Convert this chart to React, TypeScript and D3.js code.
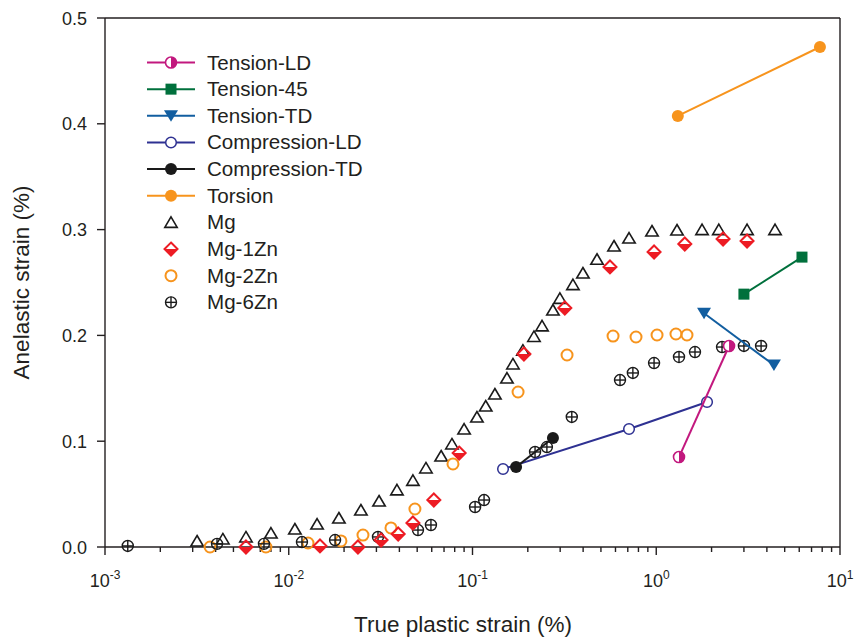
import React from "react";
import * as d3 from "d3";

// ---------- data ----------
const mgX = [0.00317, 0.00438, 0.00585, 0.008, 0.0108, 0.01426, 0.01875, 0.0247, 0.031, 0.0388, 0.0474, 0.0558, 0.0675, 0.0773, 0.09, 0.1057, 0.118, 0.1324, 0.154, 0.166, 0.188, 0.216, 0.239, 0.274, 0.299, 0.352, 0.399, 0.476, 0.589, 0.711, 0.948, 1.297, 1.775, 2.19, 3.12, 4.43];
const mgY = [0.0057, 0.0076, 0.0095, 0.0132, 0.017, 0.0217, 0.0274, 0.035, 0.0435, 0.054, 0.063, 0.0747, 0.086, 0.0974, 0.1115, 0.1229, 0.1333, 0.1446, 0.1597, 0.173, 0.186, 0.199, 0.209, 0.224, 0.235, 0.248, 0.259, 0.272, 0.2845, 0.292, 0.2987, 0.2996, 0.3, 0.3, 0.3, 0.3];

const mg1X = [0.00585, 0.01479, 0.0238, 0.0318, 0.0394, 0.0474, 0.0616, 0.0846, 0.1905, 0.318, 0.56, 0.973, 1.43, 2.31, 3.12];
const mg1Y = [0.0, 0.001, 0.0, 0.0066, 0.0123, 0.0227, 0.0444, 0.0888, 0.1824, 0.2259, 0.2647, 0.2788, 0.2864, 0.2911, 0.2892];

const mg2X = [0.00373, 0.00751, 0.01273, 0.01923, 0.02535, 0.036, 0.0486, 0.0783, 0.177, 0.327, 0.582, 0.776, 1.01, 1.28, 1.47];
const mg2Y = [0.0, 0.0, 0.0038, 0.0057, 0.0113, 0.018, 0.0359, 0.0785, 0.1465, 0.1815, 0.1994, 0.1985, 0.2004, 0.2013, 0.2004];

const mg6X = [0.00133, 0.00407, 0.00733, 0.0118, 0.01787, 0.0306, 0.0505, 0.0594, 0.1033, 0.1156, 0.219, 0.254, 0.347, 0.635, 0.746, 0.973, 1.33, 1.625, 2.28, 3.0, 3.72];
const mg6Y = [0.001, 0.003, 0.003, 0.0047, 0.0066, 0.0095, 0.016, 0.0208, 0.0378, 0.0444, 0.0898, 0.0945, 0.1229, 0.1578, 0.1645, 0.1739, 0.1796, 0.1843, 0.189, 0.19, 0.19];

const tensionLDX = [1.33, 2.49];
const tensionLDY = [0.085, 0.19];
const tension45X = [3.0, 6.21];
const tension45Y = [0.239, 0.274];
const tensionTDX = [1.82, 4.37];
const tensionTDY = [0.221, 0.172];
const compLDX = [0.1466, 0.711, 1.89];
const compLDY = [0.0737, 0.1115, 0.137];
const compTDX = [0.1726, 0.274];
const compTDY = [0.0756, 0.103];
const torsionX = [1.31, 7.78];
const torsionY = [0.4074, 0.4726];

const yTicks = [0, 0.1, 0.2, 0.3, 0.4, 0.5];
const xDecades = [1e-3, 1e-2, 1e-1, 1, 10];
const xDecadeExp = ["-3", "-2", "-1", "0", "1"];

const legendNames = ["Tension-LD", "Tension-45", "Tension-TD", "Compression-LD", "Compression-TD", "Torsion", "Mg", "Mg-1Zn", "Mg-2Zn", "Mg-6Zn"];

// ---------- styles ----------
const C = {
  tensionLD: "#c2187e",
  tension45: "#00703c",
  tensionTD: "#125ea0",
  compLD: "#2e3192",
  compTD: "#1a1a1a",
  torsion: "#f7941d",
  mg: "#1a1a1a",
  mg1: "#ed1c24",
  mg2: "#f7941d",
  mg6: "#1a1a1a",
  axis: "#231f20",
};
const FONT = "'Liberation Sans', Arial, Helvetica, sans-serif";

type MarkerKind = "halfCircle" | "square" | "downTri" | "openCircleNavy" | "filledBlack" | "filledOrange" | "tri" | "diamond" | "openCircleOrange" | "plusCircle";

function Marker({ kind, x, y }: { kind: MarkerKind; x: number; y: number }) {
  switch (kind) {
    case "halfCircle": {
      const r = 5.5;
      return (
        <g>
          <circle cx={x} cy={y} r={r} fill="#fff" stroke={C.tensionLD} strokeWidth={1.6} />
          <path d={`M${x},${y - r} A${r},${r} 0 0 1 ${x},${y + r} Z`} fill={C.tensionLD} />
        </g>
      );
    }
    case "square":
      return <rect x={x - 5.5} y={y - 5.5} width={11} height={11} fill={C.tension45} />;
    case "downTri":
      return <path d={`M${x - 7},${y - 5.5} L${x + 7},${y - 5.5} L${x},${y + 6} Z`} fill={C.tensionTD} />;
    case "openCircleNavy":
      return <circle cx={x} cy={y} r={5.3} fill="#fff" stroke={C.compLD} strokeWidth={1.5} />;
    case "filledBlack":
      return <circle cx={x} cy={y} r={6} fill={C.compTD} />;
    case "filledOrange":
      return <circle cx={x} cy={y} r={6} fill={C.torsion} />;
    case "tri":
      return <path d={`M${x},${y - 5.5} L${x + 6.2},${y + 5} L${x - 6.2},${y + 5} Z`} fill="none" stroke={C.mg} strokeWidth={1.6} strokeLinejoin="miter" />;
    case "diamond": {
      const h = 6.5;
      return (
        <g>
          <path d={`M${x - h},${y} L${x + h},${y} L${x},${y + h} Z`} fill={C.mg1} />
          <path d={`M${x},${y - h} L${x + h},${y} L${x},${y + h} L${x - h},${y} Z`} fill="none" stroke={C.mg1} strokeWidth={2} strokeLinejoin="miter" />
        </g>
      );
    }
    case "openCircleOrange":
      return <circle cx={x} cy={y} r={5.5} fill="none" stroke={C.mg2} strokeWidth={2} />;
    case "plusCircle": {
      const r = 5.5;
      return (
        <g stroke={C.mg6} strokeWidth={1.4} fill="none">
          <circle cx={x} cy={y} r={r} />
          <line x1={x - r} y1={y} x2={x + r} y2={y} />
          <line x1={x} y1={y - r} x2={x} y2={y + r} />
        </g>
      );
    }
  }
  return null;
}

export default function App() {
  const W = 856, H = 639;
  const left = 105, right = 840, top = 18, bottom = 547;
  const x = d3.scaleLog().domain([1e-3, 10]).range([left, right]);
  const y = d3.scaleLinear().domain([0, 0.5]).range([bottom, top]);
  const line = d3.line<[number, number]>().x((d) => x(d[0])).y((d) => y(d[1]));
  const pairs = (xs: number[], ys: number[]) => xs.map((v, i) => [v, ys[i]] as [number, number]);

  const scatter: { xs: number[]; ys: number[]; kind: MarkerKind }[] = [
    { xs: mgX, ys: mgY, kind: "tri" },
    { xs: mg2X, ys: mg2Y, kind: "openCircleOrange" },
    { xs: mg6X, ys: mg6Y, kind: "plusCircle" },
    { xs: mg1X, ys: mg1Y, kind: "diamond" },
  ];
  const lined: { xs: number[]; ys: number[]; kind: MarkerKind; color: string }[] = [
    { xs: compLDX, ys: compLDY, kind: "openCircleNavy", color: C.compLD },
    { xs: compTDX, ys: compTDY, kind: "filledBlack", color: C.compTD },
    { xs: tensionLDX, ys: tensionLDY, kind: "halfCircle", color: C.tensionLD },
    { xs: tension45X, ys: tension45Y, kind: "square", color: C.tension45 },
    { xs: tensionTDX, ys: tensionTDY, kind: "downTri", color: C.tensionTD },
    { xs: torsionX, ys: torsionY, kind: "filledOrange", color: C.torsion },
  ];

  const legendKinds: MarkerKind[] = ["halfCircle", "square", "downTri", "openCircleNavy", "filledBlack", "filledOrange", "tri", "diamond", "openCircleOrange", "plusCircle"];
  const legendColors = [C.tensionLD, C.tension45, C.tensionTD, C.compLD, C.compTD, C.torsion, null, null, null, null];

  const minorTicks = x.ticks().filter((t) => !xDecades.some((d) => Math.abs(d - t) / d < 1e-6));

  return (
    <svg width={W} height={H} style={{ position: "absolute", left: 0, top: 0, background: "#fff" }} fontFamily={FONT}>
      <rect width={W} height={H} fill="#fff" />
      {/* frame */}
      <g stroke={C.axis} strokeWidth={1.4} fill="none">
        <line x1={left} y1={top} x2={right} y2={top} />
        <line x1={right} y1={top} x2={right} y2={bottom} />
        <line x1={left} y1={top} x2={left} y2={bottom} />
        <line x1={left} y1={bottom} x2={right} y2={bottom} />
        {yTicks.map((t) => (
          <line key={"yt" + t} x1={left - 8} y1={y(t)} x2={left} y2={y(t)} />
        ))}
        {xDecades.map((t) => (
          <line key={"xd" + t} x1={x(t)} y1={bottom} x2={x(t)} y2={bottom + 8} />
        ))}
        {minorTicks.map((t, i) => (
          <line key={"xm" + i} x1={x(t)} y1={bottom} x2={x(t)} y2={bottom + 5} />
        ))}
      </g>
      {/* y tick labels */}
      {yTicks.map((t) => (
        <text key={"yl" + t} x={left - 18} y={y(t) + 6.5} textAnchor="end" fontSize={18} fill={C.axis}>
          {t.toFixed(1)}
        </text>
      ))}
      {/* x tick labels */}
      {xDecades.map((t, i) => (
        <text key={"xl" + t} x={x(t)} y={587} textAnchor="middle" fontSize={18} fill={C.axis}>
          <tspan>10</tspan>
          <tspan dy={-8} fontSize={12}>{xDecadeExp[i]}</tspan>
        </text>
      ))}
      {/* axis titles */}
      <text x={463} y={632} textAnchor="middle" fontSize={22.5} fill={C.axis}>
        True plastic strain (%)
      </text>
      <text transform={`translate(29,${(top + bottom) / 2}) rotate(-90)`} textAnchor="middle" fontSize={22.5} fill={C.axis}>
        Anelastic strain (%)
      </text>

      {/* scatter series */}
      {scatter.map((s, si) => (
        <g key={"s" + si}>
          {s.xs.map((v, i) => (
            <Marker key={i} kind={s.kind} x={x(v)} y={y(s.ys[i])} />
          ))}
        </g>
      ))}
      {/* line series */}
      {lined.map((s, si) => (
        <g key={"l" + si}>
          <path d={line(pairs(s.xs, s.ys)) || ""} fill="none" stroke={s.color} strokeWidth={2} />
          {s.xs.map((v, i) => (
            <Marker key={i} kind={s.kind} x={x(v)} y={y(s.ys[i])} />
          ))}
        </g>
      ))}

      {/* legend */}
      {legendNames.map((name, i) => {
        const ly = 62.5 + i * 26.65;
        const col = legendColors[i];
        return (
          <g key={"lg" + i}>
            {col && <line x1={147} y1={ly} x2={195} y2={ly} stroke={col} strokeWidth={2} />}
            <Marker kind={legendKinds[i]} x={171} y={ly} />
            <text x={207} y={ly + 7} fontSize={20.6} fill={C.axis}>
              {name}
            </text>
          </g>
        );
      })}
    </svg>
  );
}
